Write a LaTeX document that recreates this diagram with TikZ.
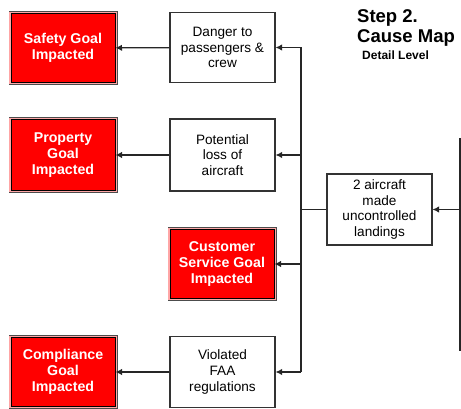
\documentclass[tikz,border=0pt]{standalone}
\usepackage{fontspec}
\setmainfont{Liberation Sans}
\usetikzlibrary{arrows.meta}

\begin{document}
\begin{tikzpicture}[x=1pt,y=-1pt]
    \tikzstyle{goal}=[rectangle, inner sep=0pt, align=center, fill=red, draw=black, line width=1pt,
        preaction={draw=gray!60!black, line width=5pt}, preaction={draw=red!35, line width=3.2pt},
        minimum width=104pt, minimum height=69pt, text=white, font=\bfseries\fontsize{14.2}{16}\selectfont]
    \tikzstyle{effect}=[rectangle, inner sep=0pt, align=center, fill=white, draw=black!80, line width=1.1pt,
        minimum width=105pt, minimum height=70pt, font=\fontsize{13.6}{15.7}\selectfont]
    \tikzstyle{line}=[line width=1.2pt, draw=black!85]
    \tikzstyle{flow}=[line, -{Latex[length=6.5pt,width=6.5pt]}]
    \useasboundingbox (0,0) rectangle (461,409);
    % goals
    \node[goal] (safety) at (63,48) {Safety Goal\\Impacted};
    \node[goal, minimum height=71pt] (property) at (63,155) {Property\\Goal\\Impacted};
    \node[goal, minimum width=104pt] (customer) at (222,264) {Customer\\Service Goal\\Impacted};
    \node[goal] (compliance) at (63,372) {Compliance\\Goal\\Impacted};
    % effects
    \node[effect] (danger) at (222.5,47.5) {Danger to\\passengers \&\\crew};
    \node[effect, minimum height=72pt] (potential) at (222.5,155) {Potential\\loss of\\aircraft};
    \node[effect, minimum height=71pt] (violated) at (222.5,372) {Violated\\FAA\\regulations};
    \node[effect, minimum height=71pt] (landings) at (379.5,209.5) {2 aircraft\\made\\uncontrolled\\landings};
    % title
    \node[anchor=base west, inner sep=0pt, font=\bfseries\fontsize{18.5}{20}\selectfont] (step) at (357,23) {Step 2.};
    \node[anchor=base west, inner sep=0pt, font=\bfseries\fontsize{18.5}{20}\selectfont] (causemap) at (357,43) {Cause Map};
    \node[anchor=base west, inner sep=0pt, font=\bfseries\fontsize{12}{13}\selectfont] (detail) at (362,60) {Detail Level};
    % connectors
    \coordinate (bustop) at (301,47.5);
    \coordinate (busbot) at (301,372);
    \coordinate (feedtop) at (460,138);
    \coordinate (feedbot) at (460,351);
    \draw[line] (bustop) -- (busbot);
    \draw[line] (landings) -- (landings -| bustop);
    \draw[line] (feedtop) -- (feedbot);
    \draw[flow] (landings -| feedtop) -- (landings);
    \draw[flow] (bustop) -- (danger);
    \draw[flow] (potential -| bustop) -- (potential);
    \draw[flow] (customer -| bustop) -- (customer);
    \draw[flow] (busbot) -- (violated);
    \draw[flow] (danger) -- (safety);
    \draw[flow] (potential) -- (property);
    \draw[flow] (violated) -- (compliance);
\end{tikzpicture}
\end{document}
